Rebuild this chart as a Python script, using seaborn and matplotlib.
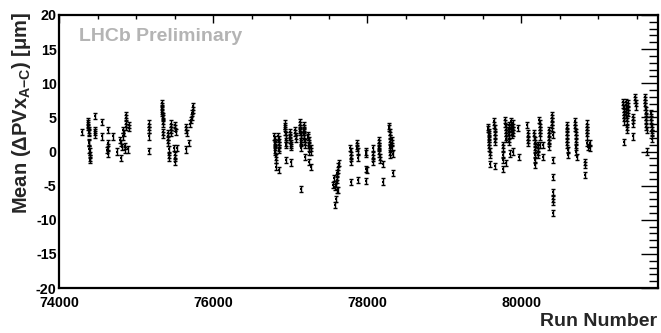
import matplotlib
matplotlib.use("Agg")
import numpy as np
import pandas as pd
import seaborn as sns
import matplotlib.pyplot as plt
from matplotlib.ticker import MultipleLocator

# ---------------- data ----------------
runs_b1 = [74288,
           74370, 74372, 74374, 74376, 74378, 74380, 74382, 74384, 74386, 74388, 74390, 74392, 74394, 74396,
           74461, 74463, 74465, 74467,
           74547, 74549,
           74625, 74627, 74629, 74612, 74634,
           74690, 74742,
           74785, 74794, 74807, 74798,
           74829, 74837, 74831,
           74860, 74862, 74864, 74866,
           74905, 74909,
           74850, 74852, 74894,
           75158, 75160, 75162, 75164, 75166,
           75330, 75332, 75334, 75336, 75338, 75340, 75342, 75344, 75346, 75348, 75350,
           75410, 75412, 75414, 75416, 75418, 75420, 75422,
           75444, 75446, 75448, 75450,
           75504, 75506, 75508,
           75491, 75521, 75500, 75502, 75504,
           75647, 75649, 75651, 75642, 75686,
           75694, 75703, 75716, 75725, 75729, 75731]
mean_b1 = [2.8,
           4.4, 4.1, 3.9, 3.6, 3.2, 2.9, 2.7, 1.4, 1.2, 0.3, 0.0, -0.5, -1.0, -1.2,
           5.2, 3.2, 2.9, 2.5,
           4.3, 2.2,
           3.1, 1.2, 0.7, 0.2, -0.4,
           2.2, 0.0,
           1.7, 1.2, 0.7, -1.0,
           3.1, 2.7, 2.2,
           5.3, 4.9, 4.1, 3.6,
           3.9, 3.4,
           0.8, 0.2, 0.3,
           4.1, 3.6, 3.1, 2.2, 0.1,
           7.1, 6.7, 6.3, 6.0, 5.6, 5.2, 4.9, 4.5, 4.1, 2.9, 2.4,
           2.7, 2.2, 1.7, 1.2, 0.3, -0.5, -1.0,
           4.1, 3.6, 3.1, 2.7,
           3.9, 3.4, 2.9,
           0.5, 0.5, -0.5, -1.0, -1.5,
           3.6, 3.1, 2.7, 0.3, 1.2,
           4.1, 4.6, 5.1, 5.6, 6.1, 6.6]

runs_b2 = [76793, 76795, 76797, 76799, 76801, 76803, 76805, 76807, 76809, 76811,
           76845, 76847, 76849, 76851, 76853, 76855, 76857,
           76929, 76931, 76933, 76935, 76937, 76939, 76941, 76943, 76945,
           76995, 76997, 76999, 77001, 77003, 77005, 77007, 77009,
           77063, 77065, 77067, 77069,
           77122, 77124, 77126, 77128, 77130, 77132, 77134, 77136, 77138, 77140, 77142,
           77172, 77174, 77176, 77178, 77180, 77182, 77184, 77186, 77188,
           77232, 77234, 77236, 77238, 77240, 77242, 77244, 77246,
           77264, 77266, 77268,
           77630, 77621, 77613, 77608, 77600, 77565, 77556, 77578, 77600, 77621, 77591, 77578, 77608, 77591,
           77780, 77782, 77784, 77786, 77788, 77790,
           77866, 77868, 77870, 77872, 77874, 77876,
           77976, 77980, 77985, 77992, 77978,
           78072, 78074, 78076, 78078,
           78146, 78148, 78150, 78152, 78154, 78156, 78158, 78160,
           78197, 78199,
           78284, 78286, 78288, 78290, 78292, 78294, 78296, 78298, 78300,
           78321, 78323, 78325, 78327, 78329]
mean_b2 = [2.2, 1.8, 1.4, 1.1, 0.7, 0.3, 0.0, -0.8, -1.3, -2.2,
           2.2, 1.8, 1.4, 1.0, 0.5, 0.2, -2.7,
           4.1, 3.7, 3.4, 2.9, 2.4, 1.9, 1.3, 1.0, -1.3,
           2.8, 2.4, 2.1, 1.7, 1.3, 1.0, 0.6, -1.6,
           3.1, 2.7, 2.3, 1.9,
           4.3, 3.9, 3.5, 3.2, 2.8, 2.4, 1.9, 1.6, 1.2, 0.5, -5.5,
           3.9, 3.5, 3.2, 2.8, 2.4, 1.9, 1.4, 1.0, -0.8,
           2.4, 2.1, 1.7, 1.3, 1.0, 0.5, 0.0, -1.5,
           0.5, 0.0, -2.3,
           -1.7, -2.2, -2.7, -3.2, -3.7, -3.9, -4.9, -5.2, -5.6, -5.6, -6.9, -7.8, -4.2, -4.7,
           0.5, 0.0, -0.5, -1.0, -1.5, -4.5,
           1.2, 0.8, 0.5, 0.1, -1.0, -4.2,
           0.0, -0.3, -2.5, -2.7, -4.3,
           0.5, -0.5, -1.0, -1.5,
           1.7, 1.2, 0.8, 0.5, 0.1, -0.3, -0.8, -1.3,
           -1.8, -4.4,
           3.7, 3.4, 2.9, 2.4, 1.9, 1.4, 0.7, 0.0, -0.5,
           1.7, 1.2, 0.5, -0.3, -3.2]

runs_b3 = [79570, 79572, 79574, 79576, 79578, 79580, 79582, 79584, 79586, 79588, 79590, 79592,
           79648, 79650, 79652, 79654, 79656, 79658, 79660, 79662,
           79760, 79762, 79764, 79766, 79768,
           79792, 79794, 79796, 79798, 79800, 79802, 79804, 79806,
           79836, 79838, 79840, 79842, 79844, 79846, 79848,
           79868, 79870, 79872, 79874, 79876,
           79890, 79892, 79894, 79896, 79898,
           79963, 79965,
           80076, 80085, 80087, 80089, 80091,
           80167, 80169, 80171, 80173, 80175, 80177, 80179, 80181, 80183,
           80214, 80216, 80218, 80220,
           80234, 80236, 80238, 80240, 80242, 80244, 80246,
           80275, 80277,
           80355, 80357, 80359, 80361, 80363, 80365,
           80395, 80397, 80399, 80401, 80403, 80405, 80407, 80409, 80411, 80413, 80415, 80417,
           80587, 80589, 80591, 80593, 80595, 80597, 80599, 80601, 80603,
           80699, 80701, 80703, 80705, 80707, 80709, 80711, 80713, 80715, 80717,
           80849, 80851, 80853, 80855, 80857, 80859, 80861,
           80825, 80828, 80822,
           80889, 80892]
mean_b3 = [3.6, 3.3, 2.9, 2.6, 2.2, 1.8, 1.4, 1.0, 0.5, 0.0, -0.5, -1.8,
           4.4, 3.9, 3.4, 2.9, 2.4, 1.9, 1.4, -2.1,
           1.0, 0.5, -0.5, -1.2, -2.6,
           4.6, 4.1, 3.6, 3.2, 2.7, 2.2, 1.8, -1.7,
           3.9, 3.4, 2.9, 2.4, 1.9, 1.4, -0.3,
           4.4, 3.9, 3.4, 2.9, 2.4,
           4.1, 3.6, 3.2, 2.7, 0.0,
           3.4, -0.8,
           3.9, 2.7, 2.2, 1.7, 1.2,
           2.7, 2.2, 1.7, 1.2, 0.7, 0.2, -0.5, -1.2, -2.0,
           1.0, 0.5, 0.0, -0.5,
           4.6, 4.1, 3.6, 3.2, 2.7, 2.2, 1.0,
           1.0, -0.8,
           3.2, 2.7, 2.2, 1.7, 1.2, 0.7,
           5.4, 4.9, 4.4, 3.9, 3.4, 2.4, -1.3, -3.7, -5.9, -6.9, -7.4, -9.0,
           3.9, 3.4, 2.9, 2.4, 1.9, 1.4, 1.0, 0.2, -0.5,
           4.4, 3.9, 3.4, 2.9, 2.4, 1.9, 1.4, 0.7, 0.0, -0.8,
           4.1, 3.6, 3.2, 2.7, 2.2, 1.2, 0.7,
           -1.5, -2.0, -3.4,
           1.2, 0.5]

runs_b4 = [81324, 81326, 81328, 81330, 81332, 81334, 81336, 81338,
           81358, 81360, 81362, 81364, 81366, 81368, 81370, 81372, 81374,
           81384, 81386, 81388, 81390,
           81448, 81450, 81452, 81454,
           81480, 81482, 81484, 81486,
           81606, 81608, 81610, 81612, 81614, 81616, 81618, 81620, 81622, 81624, 81626, 81628,
           81683, 81685, 81687, 81689, 81691, 81693, 81695, 81697]
mean_b4 = [7.3, 6.8, 6.3, 5.8, 5.4, 4.9, 4.4, 1.4,
           7.3, 6.8, 6.3, 5.8, 5.4, 4.9, 4.4, 3.6, 3.2,
           7.1, 6.6, 6.1, 5.6,
           5.1, 4.6, 4.1, 2.2,
           8.0, 7.6, 7.1, 6.6,
           8.0, 7.6, 7.1, 6.6, 6.1, 5.6, 5.1, 4.6, 4.1, 3.6, 3.2, 0.0,
           5.6, 5.1, 4.6, 4.1, 3.6, 3.2, 2.7, 1.9]

mean_error = 0.45   # typical error bar half-length [um]

x_label = "Run Number"
y_label = r"Mean ($\Delta$PVx$_{A\mathrm{-}C}$) [$\mu$m]"
watermark = "LHCb Preliminary"

# ---------------- build table ----------------
df = pd.DataFrame({
    "run": runs_b1 + runs_b2 + runs_b3 + runs_b4,
    "mean": mean_b1 + mean_b2 + mean_b3 + mean_b4,
})

# ---------------- style ----------------
sns.set_theme(style="white")
plt.rcParams["font.family"] = ["Liberation Sans", "DejaVu Sans"]
plt.rcParams["font.weight"] = "bold"
plt.rcParams["axes.unicode_minus"] = False
plt.rcParams["mathtext.fontset"] = "custom"
plt.rcParams["mathtext.rm"] = "Liberation Sans:bold"
plt.rcParams["mathtext.it"] = "Liberation Sans:bold"
plt.rcParams["mathtext.bf"] = "Liberation Sans:bold"
plt.rcParams["mathtext.sf"] = "Liberation Sans:bold"
plt.rcParams["mathtext.default"] = "bf"

fig = plt.figure(figsize=(6.61, 3.33), dpi=100)
ax = fig.add_axes([0.090, 0.135, 0.906, 0.820])

ax.errorbar(df["run"], df["mean"], yerr=mean_error, fmt="none",
            ecolor="black", elinewidth=1.0, capsize=1.4, capthick=1.0, zorder=2)
sns.scatterplot(data=df, x="run", y="mean", ax=ax, color="black",
                marker="s", s=4, linewidth=0, legend=False, zorder=3)

ax.set_xlim(74000, 81780)
ax.set_ylim(-20, 20)

ax.xaxis.set_major_locator(MultipleLocator(2000))
ax.xaxis.set_minor_locator(MultipleLocator(500))
ax.yaxis.set_major_locator(MultipleLocator(5))
ax.yaxis.set_minor_locator(MultipleLocator(1))

for s in ax.spines.values():
    s.set_linewidth(1.6)
    s.set_color("black")

ax.tick_params(axis="both", which="both", direction="in", top=True, right=True,
               colors="black", width=1.0)
ax.tick_params(axis="x", which="major", length=6, pad=6, labelsize=10.3)
ax.tick_params(axis="x", which="minor", length=3)
ax.tick_params(axis="y", which="major", length=12.5, pad=2, labelsize=10.3)
ax.tick_params(axis="y", which="minor", length=6.5)
for lab in ax.get_xticklabels() + ax.get_yticklabels():
    lab.set_fontweight("bold")

ax.set_xlabel(x_label, fontsize=14, fontweight="bold", loc="right", va="baseline")
ax.xaxis.set_label_coords(0.998, -0.138)
ax.set_ylabel(y_label, fontsize=14.5, fontweight="bold", loc="top")
ax.yaxis.set_label_coords(-0.044, 1.012)

ax.text(0.033, 0.923, watermark, transform=ax.transAxes, fontsize=14,
        fontweight="bold", color="#b4b4b4", ha="left", va="center")

fig.savefig("out.png", dpi=100)
